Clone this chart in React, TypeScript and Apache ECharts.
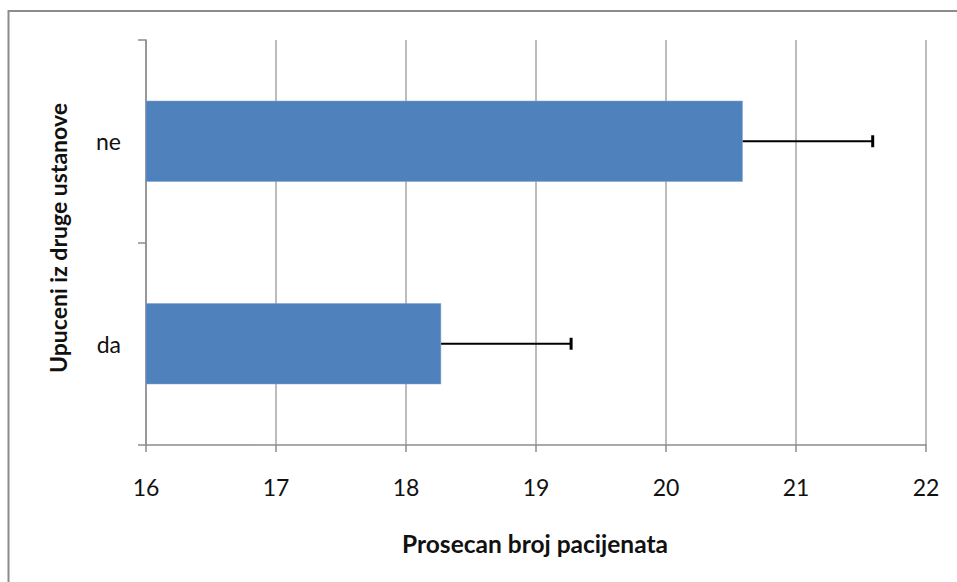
import React, { useEffect, useRef } from "react";
import * as echarts from "echarts";

const categories = ["da", "ne"];
const means = [18.27, 20.59];
const errors = [1.0, 1.0];
const xTicks = { min: 16, max: 22, interval: 1 };
const xTitle = "Prosecan broj pacijenata";
const yTitle = "Upuceni iz druge ustanove";

const FONT = "Lato, 'Open Sans', sans-serif";

export default function App() {
  const ref = useRef<HTMLDivElement>(null);
  useEffect(() => {
    if (!ref.current) return;
    const chart = echarts.init(ref.current, undefined, { renderer: "svg" });
    const errData = means.map((m, i) => [m, i, errors[i]]);
    chart.setOption({
      animation: false,
      backgroundColor: "#ffffff",
      textStyle: { fontFamily: FONT },
      grid: { left: 146, right: 31, top: 40, bottom: 137, containLabel: false },
      xAxis: {
        type: "value",
        min: xTicks.min,
        max: xTicks.max,
        interval: xTicks.interval,
        axisLine: { show: true, lineStyle: { color: "#8c8c8c", width: 1.5 } },
        axisTick: { show: true, length: 7, lineStyle: { color: "#8c8c8c", width: 1.5 } },
        splitLine: { show: true, lineStyle: { color: "#a6a6a6", width: 1.5 } },
        axisLabel: { color: "#111", fontSize: 23, margin: 30, fontFamily: FONT },
      },
      yAxis: {
        type: "category",
        data: categories,
        axisLine: { show: true, lineStyle: { color: "#8c8c8c", width: 1.5 } },
        axisTick: { show: true, length: 8, lineStyle: { color: "#8c8c8c", width: 1.5 } },
        axisLabel: { color: "#111", fontSize: 23, margin: 25, fontFamily: FONT },
        splitLine: { show: false },
      },
      series: [
        {
          type: "bar",
          data: means,
          barWidth: "40%",
          itemStyle: { color: "#4f81bd", borderColor: "#7da0d0", borderWidth: 0.5 },
          clip: true,
        },
        {
          type: "custom",
          data: errData,
          encode: { x: 0, y: 1 },
          renderItem: (params: any, api: any) => {
            const v = api.value(0);
            const idx = api.value(1);
            const e = api.value(2);
            const p0 = api.coord([v, idx]);
            const p1 = api.coord([v + e, idx]);
            return {
              type: "group",
              children: [
                {
                  type: "line",
                  shape: { x1: p0[0], y1: p0[1], x2: p1[0], y2: p1[1] },
                  style: { stroke: "#000", lineWidth: 2 },
                },
                {
                  type: "line",
                  shape: { x1: p1[0], y1: p1[1] - 6, x2: p1[0], y2: p1[1] + 6 },
                  style: { stroke: "#000", lineWidth: 3 },
                },
              ],
            };
          },
          z: 5,
        },
      ],
      graphic: [
        {
          type: "rect",
          shape: { x: 8.5, y: 11, width: 1000, height: 700 },
          style: { fill: "none", stroke: "#8c8c8c", lineWidth: 2 },
          silent: true,
        },
        {
          type: "text",
          x: 535,
          y: 543,
          style: {
            text: xTitle,
            fontFamily: FONT,
            fontWeight: "bold",
            fontSize: 24.5,
            fill: "#111",
            align: "center",
            verticalAlign: "middle",
          },
        },
        {
          type: "text",
          x: 58,
          y: 238,
          rotation: Math.PI / 2,
          style: {
            text: yTitle,
            fontFamily: FONT,
            fontWeight: "bold",
            fontSize: 23,
            fill: "#111",
            align: "center",
            verticalAlign: "middle",
          },
        },
      ],
    });
    return () => chart.dispose();
  }, []);
  return (
    <div
      ref={ref}
      style={{ position: "absolute", left: 0, top: 0, width: 957, height: 582 }}
    />
  );
}
